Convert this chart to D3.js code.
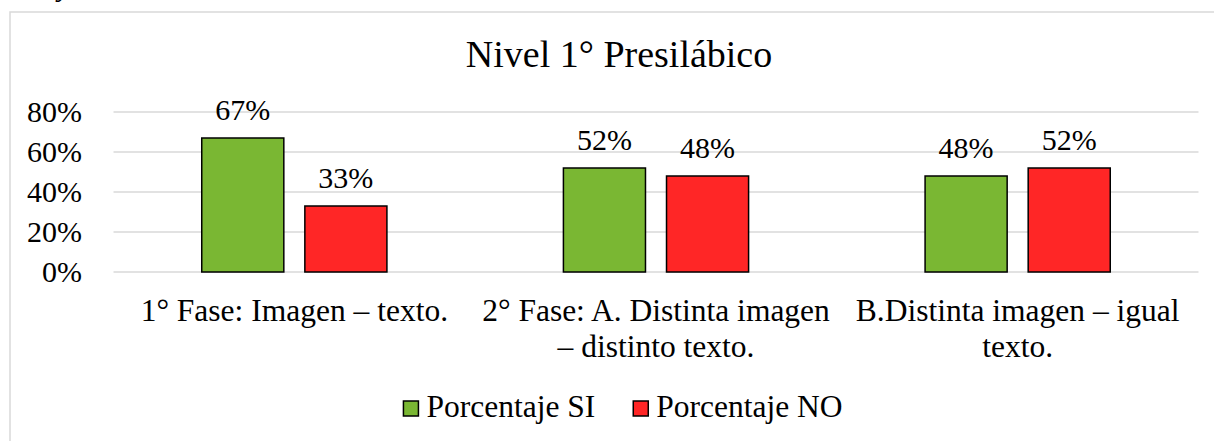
<!DOCTYPE html>
<html>
<head>
<meta charset="utf-8">
<script src="https://cdn.jsdelivr.net/npm/d3@7"></script>
<style>
  body { margin: 0; background: #fff; }
  svg { display: block; }
  svg text { font-family: "Liberation Serif", "Times New Roman", Tinos, "DejaVu Serif", serif; }
</style>
</head>
<body>
<div id="chart"></div>
<script>
var categories = ["1° Fase: Imagen – texto.", "2° Fase: A. Distinta imagen – distinto texto.", "B.Distinta imagen – igual texto."];
var categoryLines = [
  ["1° Fase: Imagen – texto."],
  ["2° Fase: A. Distinta imagen", "– distinto texto."],
  ["B.Distinta imagen – igual", "texto."]
];
var seriesNames = ["Porcentaje SI", "Porcentaje NO"];
var siValues = [0.67, 0.52, 0.48];
var noValues = [0.33, 0.48, 0.52];
var yTicks = [0, 0.2, 0.4, 0.6, 0.8];
var colors = ["#7ab733", "#ff2626"];

var width = 1214,
  height = 441;

var serif = "'Liberation Serif', 'Times New Roman', Tinos, 'DejaVu Serif', serif";

var plot = { left: 113.5, right: 1198.5, top: 112, bottom: 272 };

var svg = d3.select("#chart")
  .append("svg")
  .attr("width", width)
  .attr("height", height)
  .attr("font-family", serif);

// caption text cut off above the chart
svg.append("text")
  .attr("x", 58)
  .attr("y", -4)
  .attr("font-family", serif)
  .style("font-style", "italic")
  .style("font-size", "30px")
  .text("y");

// chart area border
svg.append("rect")
  .attr("x", 10)
  .attr("y", 12)
  .attr("width", 1240)
  .attr("height", 460)
  .style("fill", "none")
  .style("stroke", "#d9d9d9")
  .style("stroke-width", 1.5);

svg.append("text")
  .attr("x", 619)
  .attr("y", 67)
  .attr("text-anchor", "middle")
  .attr("font-family", serif)
  .style("font-size", "38px")
  .text("Nivel 1° Presilábico");

var y = d3.scaleLinear()
  .domain([0, 0.8])
  .range([plot.bottom, plot.top]);

var x0 = d3.scaleBand()
  .domain(categories)
  .range([plot.left, plot.right])
  .paddingInner(0.488)
  .paddingOuter(0.244);

var x1 = d3.scaleBand()
  .domain(seriesNames)
  .range([0, x0.bandwidth()])
  .paddingInner(0.204)
  .paddingOuter(0);

// gridlines
svg.append("g")
  .selectAll("line")
  .data(yTicks)
  .enter().append("line")
  .attr("x1", plot.left)
  .attr("x2", plot.right)
  .attr("y1", d => y(d))
  .attr("y2", d => y(d))
  .style("stroke", "#d9d9d9")
  .style("stroke-width", 1.5);

// y tick labels
svg.append("g")
  .selectAll("text")
  .data(yTicks)
  .enter().append("text")
  .attr("x", 82)
  .attr("y", d => y(d))
  .attr("dy", "0.34em")
  .attr("text-anchor", "end")
  .attr("font-family", serif)
  .style("font-size", "30px")
  .text(d => d3.format(".0%")(d));

var rows = categories.map(function (c, i) {
  return { category: c, values: [siValues[i], noValues[i]] };
});

var groups = svg.append("g")
  .selectAll("g")
  .data(rows)
  .enter().append("g")
  .attr("transform", d => "translate(" + x0(d.category) + ",0)");

groups.selectAll("rect")
  .data(d => d.values.map((v, j) => ({ name: seriesNames[j], value: v, j: j })))
  .enter().append("rect")
  .attr("x", d => x1(d.name))
  .attr("y", d => y(d.value))
  .attr("width", x1.bandwidth())
  .attr("height", d => y(0) - y(d.value))
  .style("fill", d => colors[d.j])
  .style("stroke", "#000")
  .style("stroke-width", 1.5);

groups.selectAll("text")
  .data(d => d.values.map((v, j) => ({ name: seriesNames[j], value: v })))
  .enter().append("text")
  .attr("x", d => x1(d.name) + x1.bandwidth() / 2)
  .attr("y", d => y(d.value) - 18)
  .attr("text-anchor", "middle")
  .attr("font-family", serif)
  .style("font-size", "30px")
  .text(d => d3.format(".0%")(d.value));

// category labels
svg.append("g")
  .selectAll("text")
  .data(categories)
  .enter().append("text")
  .attr("x", d => x0(d) + x0.bandwidth() / 2)
  .attr("y", 321)
  .attr("text-anchor", "middle")
  .attr("font-family", serif)
  .style("font-size", "31.5px")
  .each(function (d, i) {
    var t = d3.select(this);
    categoryLines[i].forEach(function (line, k) {
      t.append("tspan")
        .attr("x", x0(d) + x0.bandwidth() / 2)
        .attr("dy", k === 0 ? 0 : 35.5)
        .text(line);
    });
  });

// legend
var legend = svg.append("g");
var lx = 0;
seriesNames.forEach(function (name, i) {
  var item = legend.append("g").attr("transform", "translate(" + lx + ",0)");
  item.append("rect")
    .attr("x", 0)
    .attr("y", 401)
    .attr("width", 15)
    .attr("height", 15)
    .style("fill", colors[i])
    .style("stroke", "#000")
    .style("stroke-width", 1.5);
  var t = item.append("text")
    .attr("x", 23)
    .attr("y", 417)
    .attr("font-family", serif)
    .style("font-size", "31.5px")
    .text(name);
  lx += 23 + t.node().getComputedTextLength() + 38;
});
var legendWidth = lx - 38;
legend.attr("transform", "translate(" + (623 - legendWidth / 2) + ",0)");
</script>
</body>
</html>
